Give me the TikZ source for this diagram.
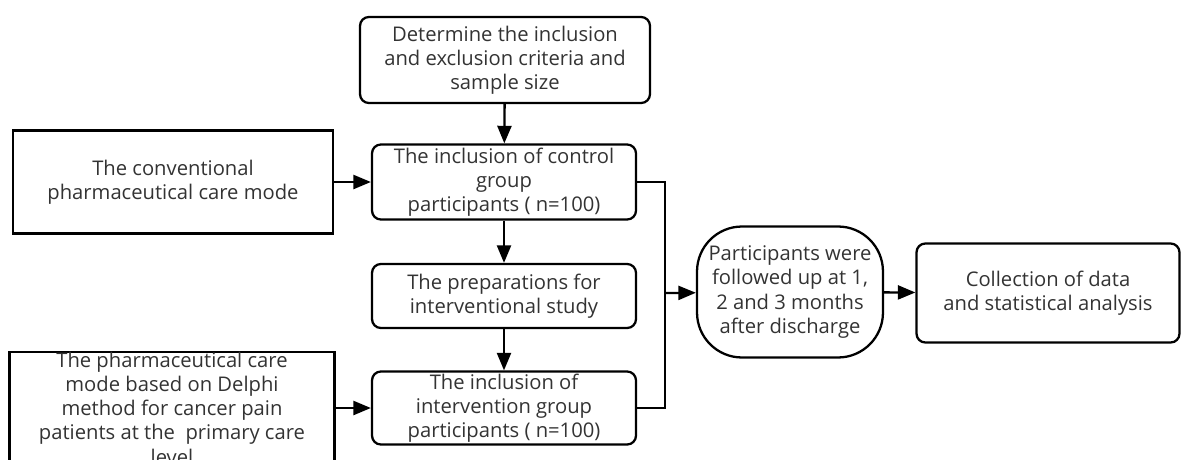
\documentclass[tikz,border=0pt]{standalone}
\usepackage{fontspec}
\setmainfont{Open Sans}
\usetikzlibrary{arrows.meta,positioning}

\begin{document}
\begin{tikzpicture}[x=0.02cm, y=-0.02cm,
  every node/.style={font=\fontsize{11.5}{13.8}\selectfont, text=black!80, align=center, inner sep=0pt},
  roundbox/.style={draw=black, line width=1.3pt, rounded corners=5pt},
  plainbox/.style={draw=black, line width=1.3pt},
  pillbox/.style={draw=black, line width=1.3pt, rounded corners=0.9cm},
  link/.style={draw=black, line width=1.3pt, -{Triangle[length=10pt,width=8pt]}},
  wire/.style={draw=black, line width=1.3pt}
]
\clip (0,0) rectangle (1184,460);
\useasboundingbox (0,0) rectangle (1184,460);

% middle column
\node[roundbox, minimum width=5.8cm, minimum height=1.72cm] (determine) at (505,60)
  {Determine the inclusion\\and exclusion criteria and\\sample size};
\node[roundbox, minimum width=5.28cm, minimum height=1.5cm] (control) at (504,182)
  {The inclusion of control\\group\\participants ( n=100)};
\node[roundbox, minimum width=5.28cm, minimum height=1.28cm] (prep) at (504,296)
  {The preparations for\\interventional study};
\node[roundbox, minimum width=5.28cm, minimum height=1.46cm] (interv) at (504,408)
  {The inclusion of\\intervention group\\participants ( n=100)};

% left column
\node[plainbox, minimum width=6.4cm, minimum height=2.06cm] (conv) at (173,182)
  {The conventional\\pharmaceutical care mode};
\node[plainbox, minimum width=6.5cm, minimum height=2.24cm] (delphi) at (172,408) {};
\node at (delphi) {The pharmaceutical care\\mode based on Delphi\\method for cancer pain\\patients at the\ \ primary care\\level};

% right side
\coordinate (join) at (665,293);
\node[pillbox, minimum width=3.72cm, minimum height=2.62cm] (follow) at (790,292)
  {Participants were\\followed up at 1,\\2 and 3 months\\after discharge};
\node[roundbox, minimum width=5.26cm, minimum height=1.98cm] (collect) at (1048,293)
  {Collection of data\\and statistical analysis};

% connectors
\draw[link] (determine) -- (control);
\draw[link] (control) -- (prep);
\draw[link] (prep) -- (interv);
\draw[link] (conv) -- (control);
\draw[link] (delphi) -- (interv);
\draw[wire] (control.east) -| (join) |- (interv.east);
\draw[link] (join) -- (follow);
\draw[link] (follow) -- (collect);
\end{tikzpicture}
\end{document}
